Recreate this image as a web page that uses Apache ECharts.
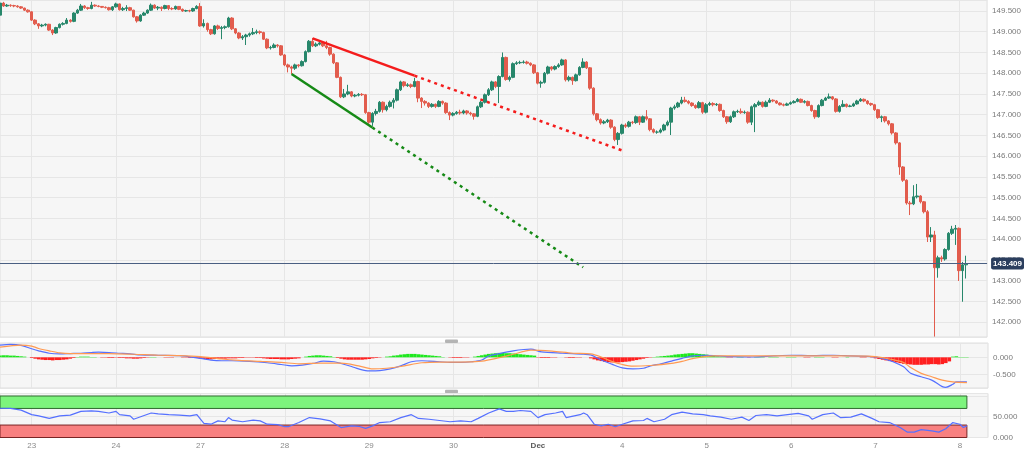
<!DOCTYPE html>
<html>
<head>
<meta charset="utf-8">
<style>
  html, body { margin: 0; padding: 0; background: #fff; }
  #chart { width: 1024px; height: 452px; }
</style>
<script src="https://cdn.jsdelivr.net/npm/echarts@6/dist/echarts.min.js"></script>
</head>
<body>
<div id="chart"></div>
<script>
// hourly candles, 22 Nov 15:00 .. 8 Dec 02:00 (weekends skipped)
var days = ['22', '23', '24', '27', '28', '29', '30', 'Dec', '4', '5', '6', '7', '8']
var firstHour = 15
var slots = 282
var firstOpen = 149.40
var lastPrice = 143.409

var closes = [
  149.69, 149.62, 149.64, 149.63, 149.62, 149.60, 149.57, 149.52, 149.48,
  149.28, 149.19, 149.14, 149.16, 149.18, 149.04, 148.97, 149.10, 149.18, 149.20, 149.28, 149.25, 149.45, 149.52, 149.62, 149.58, 149.56, 149.64, 149.62, 149.61, 149.59, 149.58, 149.53, 149.60,
  149.67, 149.53, 149.56, 149.58, 149.52, 149.36, 149.26, 149.40, 149.45, 149.52, 149.64, 149.57, 149.59, 149.56, 149.63, 149.56, 149.55, 149.61, 149.54, 149.50, 149.51, 149.50, 149.56, 149.61,
  149.14, 149.20, 149.05, 148.95, 149.14, 149.08, 149.10, 149.12, 149.33, 149.07, 148.97, 148.85, 148.88, 148.92, 148.95, 148.98, 149.00, 148.98, 148.82, 148.61, 148.62, 148.68, 148.66, 148.44,
  148.20, 148.15, 148.12, 148.20, 148.18, 148.28, 148.52, 148.77, 148.66, 148.70, 148.73, 148.66, 148.62, 148.46, 148.25, 147.90, 147.43, 147.50, 147.55, 147.45, 147.47, 147.49, 147.48, 147.05,
  146.82, 147.03, 147.08, 147.30, 147.12, 147.20, 147.30, 147.35, 147.60, 147.79, 147.70, 147.72, 147.68, 147.80, 147.40, 147.32, 147.28, 147.20, 147.25, 147.20, 147.32, 147.28, 147.05, 146.99,
  147.03, 147.06, 147.04, 147.09, 147.04, 147.02, 146.96, 147.19, 147.30, 147.48, 147.60, 147.79, 147.68, 147.92, 148.38, 147.85, 147.90, 148.23, 148.25, 148.26, 148.27, 148.24, 148.20, 148.01,
  147.76, 147.78, 148.00, 148.15, 148.10, 148.16, 148.20, 148.32, 147.84, 147.90, 147.82, 147.96, 148.14, 148.27, 148.13, 147.64, 147.02, 146.88, 146.80, 146.83, 146.87, 146.70, 146.40, 146.55,
  146.75, 146.72, 146.82, 146.81, 146.95, 146.82, 146.95, 146.90, 146.64, 146.58, 146.58, 146.63, 146.75, 146.82, 147.16, 147.19, 147.28, 147.35, 147.32, 147.28, 147.22, 147.17, 147.29, 147.06,
  147.24, 147.27, 147.24, 147.25, 147.10, 146.95, 146.83, 146.95, 147.07, 147.08, 147.05, 147.06, 146.82, 147.19, 147.24, 147.30, 147.20, 147.30, 147.35, 147.33, 147.28, 147.24, 147.23, 147.26,
  147.29, 147.32, 147.37, 147.30, 147.32, 147.22, 147.10, 146.95, 147.22, 147.35, 147.40, 147.43, 147.38, 147.08, 147.20, 147.25, 147.20, 147.21, 147.26, 147.33, 147.37, 147.33, 147.27, 147.24,
  147.12, 146.93, 146.95, 146.85, 146.78, 146.56, 146.32, 145.74, 145.42, 144.87, 144.85, 145.02, 145.04, 144.90, 144.66, 144.05, 144.10, 143.31, 143.55, 143.52, 143.75, 144.14, 144.24, 144.26,
  143.24, 143.38, 143.41
]

var highs = [
  149.72, 149.72, 149.67, 149.66, 149.65, 149.64, 149.62, 149.58, 149.54,
  149.49, 149.30, 149.21, 149.19, 149.20, 149.19, 149.06, 149.12, 149.20, 149.23, 149.33, 149.30, 149.47, 149.55, 149.67, 149.64, 149.60, 149.72, 149.66, 149.64, 149.62, 149.61, 149.60, 149.62,
  149.70, 149.68, 149.60, 149.64, 149.60, 149.53, 149.38, 149.42, 149.48, 149.54, 149.68, 149.66, 149.62, 149.61, 149.65, 149.64, 149.59, 149.63, 149.62, 149.56, 149.53, 149.53, 149.58, 149.64,
  149.69, 149.30, 149.22, 149.07, 149.16, 149.17, 149.14, 149.15, 149.36, 149.35, 149.09, 148.99, 148.92, 148.95, 148.98, 149.09, 149.05, 149.03, 149.00, 148.84, 148.66, 148.72, 148.70, 148.68,
  148.46, 148.23, 148.18, 148.23, 148.22, 148.31, 148.55, 148.80, 148.85, 148.74, 148.76, 148.75, 148.78, 148.64, 148.48, 148.27, 147.92, 147.62, 147.72, 147.57, 147.50, 147.52, 147.52, 147.50,
  147.07, 147.06, 147.14, 147.33, 147.32, 147.24, 147.34, 147.40, 147.63, 147.82, 147.81, 147.76, 147.75, 147.89, 147.82, 147.42, 147.35, 147.30, 147.28, 147.27, 147.35, 147.34, 147.30, 147.08,
  147.06, 147.09, 147.12, 147.12, 147.11, 147.07, 147.04, 147.22, 147.33, 147.51, 147.64, 147.82, 147.81, 147.95, 148.50, 148.40, 147.94, 148.26, 148.29, 148.30, 148.31, 148.30, 148.26, 148.22,
  148.03, 147.82, 148.03, 148.18, 148.17, 148.19, 148.24, 148.35, 148.34, 147.94, 147.92, 147.99, 148.17, 148.36, 148.29, 148.15, 147.66, 147.04, 146.91, 146.87, 146.90, 146.89, 146.72, 146.58,
  146.78, 146.79, 146.85, 146.85, 146.98, 146.97, 146.98, 147.11, 146.92, 146.67, 146.62, 146.67, 146.78, 146.86, 147.19, 147.24, 147.31, 147.43, 147.43, 147.35, 147.30, 147.25, 147.33, 147.31,
  147.28, 147.31, 147.30, 147.28, 147.27, 147.12, 146.97, 146.98, 147.10, 147.12, 147.15, 147.10, 147.08, 147.22, 147.28, 147.34, 147.32, 147.34, 147.40, 147.37, 147.35, 147.30, 147.27, 147.29,
  147.32, 147.35, 147.40, 147.39, 147.35, 147.34, 147.24, 147.12, 147.25, 147.38, 147.43, 147.51, 147.45, 147.40, 147.23, 147.35, 147.27, 147.24, 147.29, 147.36, 147.40, 147.39, 147.35, 147.29,
  147.26, 147.14, 146.98, 146.97, 146.87, 146.80, 146.58, 146.34, 145.76, 145.44, 144.92, 145.30, 145.33, 145.06, 144.92, 144.70, 144.29, 144.20, 143.60, 143.60, 143.78, 144.17, 144.32, 144.34,
  144.28, 143.45, 143.60
]

var lows = [
  149.38, 149.60, 149.60, 149.60, 149.59, 149.58, 149.55, 149.50, 149.46,
  149.26, 149.16, 149.07, 149.11, 149.13, 149.02, 148.92, 148.95, 149.08, 149.15, 149.18, 149.22, 149.23, 149.43, 149.50, 149.55, 149.53, 149.54, 149.60, 149.59, 149.57, 149.56, 149.51, 149.50,
  149.58, 149.51, 149.50, 149.50, 149.50, 149.34, 149.22, 149.24, 149.38, 149.43, 149.50, 149.55, 149.52, 149.50, 149.54, 149.52, 149.52, 149.53, 149.52, 149.48, 149.48, 149.47, 149.48, 149.54,
  149.12, 149.10, 149.00, 148.92, 148.93, 149.04, 148.82, 149.06, 149.10, 149.04, 148.94, 148.82, 148.80, 148.68, 148.88, 148.92, 148.94, 148.94, 148.80, 148.58, 148.57, 148.60, 148.62, 148.42,
  148.17, 148.02, 147.98, 148.08, 148.14, 148.16, 148.26, 148.50, 148.63, 148.63, 148.67, 148.63, 148.58, 148.42, 148.22, 147.88, 147.40, 147.40, 147.47, 147.42, 147.42, 147.44, 147.45, 147.02,
  146.78, 146.73, 146.98, 147.05, 147.05, 147.08, 147.17, 147.15, 147.32, 147.57, 147.66, 147.67, 147.64, 147.66, 147.30, 147.16, 147.22, 147.16, 147.17, 147.16, 147.18, 147.24, 147.02, 146.87,
  146.96, 147.00, 147.00, 147.01, 147.00, 146.98, 146.88, 146.94, 147.16, 147.27, 147.45, 147.57, 147.64, 147.28, 147.90, 147.82, 147.80, 147.88, 148.20, 148.22, 148.23, 148.21, 148.17, 147.98,
  147.73, 147.65, 147.75, 147.97, 148.06, 148.07, 148.13, 148.18, 147.80, 147.80, 147.72, 147.80, 147.94, 148.12, 148.10, 147.60, 146.98, 146.84, 146.76, 146.77, 146.80, 146.66, 146.36, 146.27,
  146.52, 146.68, 146.69, 146.77, 146.78, 146.75, 146.80, 146.86, 146.60, 146.55, 146.54, 146.55, 146.60, 146.72, 146.51, 147.12, 147.16, 147.25, 147.29, 147.25, 147.19, 147.14, 147.15, 147.02,
  147.03, 147.21, 147.20, 147.21, 147.07, 146.92, 146.78, 146.80, 146.92, 147.04, 147.02, 147.02, 146.78, 146.75, 146.58, 147.21, 147.17, 147.18, 147.28, 147.30, 147.26, 147.22, 147.20, 147.21,
  147.24, 147.27, 147.30, 147.28, 147.27, 147.20, 147.07, 146.90, 146.93, 147.20, 147.33, 147.38, 147.35, 147.05, 147.05, 147.18, 147.17, 147.18, 147.19, 147.24, 147.31, 147.30, 147.24, 147.21,
  147.09, 146.90, 146.82, 146.81, 146.74, 146.52, 146.28, 145.55, 145.38, 144.83, 144.58, 144.82, 144.98, 144.86, 144.62, 143.93, 143.93, 141.65, 143.07, 143.45, 143.48, 143.72, 144.10, 143.86,
  142.99, 142.49, 143.05
]

var macdHist = [
  0.05, 0.06, 0.06, 0.05, 0.05, 0.04, 0.03, 0.02, 0.00,
  -0.02, -0.04, -0.06, -0.07, -0.08, -0.08, -0.09, -0.08, -0.08, -0.07, -0.06, -0.04, -0.02, 0.01, 0.02, 0.02, 0.02, 0.01, 0.01, 0.00, -0.01, -0.01, -0.02, -0.02,
  -0.01, -0.02, -0.02, -0.03, -0.03, -0.04, -0.04, -0.03, -0.02, -0.01, 0.01, 0.01, 0.00, 0.00, -0.01, -0.01, -0.01, 0.00, 0.00, -0.01, -0.01, -0.02, -0.02, -0.02,
  -0.04, -0.05, -0.05, -0.06, -0.05, -0.05, -0.04, -0.04, -0.03, -0.03, -0.03, -0.02, -0.02, -0.01, -0.01, -0.01, -0.02, -0.02, -0.03, -0.04, -0.05, -0.05, -0.05, -0.06,
  -0.06, -0.06, -0.05, -0.04, -0.03, 0.00, 0.02, 0.04, 0.05, 0.06, 0.06, 0.05, 0.04, 0.03, 0.01, -0.02, -0.04, -0.06, -0.07, -0.07, -0.07, -0.07, -0.07, -0.06,
  -0.05, -0.03, -0.02, -0.01, 0.00, 0.02, 0.03, 0.05, 0.06, 0.08, 0.09, 0.10, 0.10, 0.10, 0.09, 0.08, 0.07, 0.06, 0.05, 0.04, 0.03, 0.01, 0.00, -0.01,
  -0.02, -0.02, -0.02, -0.01, -0.01, 0.00, 0.02, 0.04, 0.06, 0.08, 0.10, 0.11, 0.12, 0.13, 0.13, 0.12, 0.12, 0.11, 0.10, 0.09, 0.08, 0.07, 0.06, 0.05,
  -0.01, -0.02, -0.02, -0.02, -0.01, -0.01, 0.00, 0.00, -0.01, -0.02, -0.02, -0.01, -0.01, 0.00, 0.00, -0.03, -0.06, -0.09, -0.11, -0.13, -0.14, -0.15, -0.15, -0.15,
  -0.14, -0.13, -0.12, -0.10, -0.08, -0.06, -0.04, -0.02, -0.01, 0.01, 0.02, 0.03, 0.04, 0.05, 0.06, 0.08, 0.09, 0.10, 0.11, 0.12, 0.12, 0.11, 0.10, 0.09,
  0.08, 0.06, 0.05, 0.03, 0.02, 0.01, -0.01, -0.01, 0.00, 0.01, 0.01, 0.00, -0.01, 0.00, 0.01, 0.01, 0.01, 0.00, 0.01, 0.01, 0.01, 0.00, 0.00, 0.01,
  0.01, 0.01, 0.00, 0.00, -0.01, -0.01, 0.00, 0.01, 0.01, 0.01, 0.00, 0.00, -0.01, -0.01, 0.00, 0.00, 0.01, 0.00, 0.00, 0.00, -0.01, -0.01, 0.00, -0.01,
  -0.03, -0.05, -0.07, -0.09, -0.11, -0.13, -0.15, -0.17, -0.19, -0.20, -0.21, -0.22, -0.22, -0.22, -0.21, -0.21, -0.20, -0.20, -0.21, -0.20, -0.17, -0.12, 0.02, 0.03,
  0.01, 0.01, 0.01
]

// [hour index, value]
var macdLine = [[0, 0.36], [3, 0.38], [6, 0.35], [9, 0.25], [11, 0.19], [14, 0.12], [17, 0.10], [20, 0.11], [23, 0.12], [26, 0.14], [28, 0.15], [31, 0.14], [34, 0.12], [37, 0.10], [40, 0.07], [45, 0.06], [51, 0.05], [57, -0.03], [60, -0.08], [63, -0.10], [66, -0.10], [71, -0.12], [76, -0.16], [80, -0.21], [83, -0.25], [86, -0.23], [89, -0.18], [92, -0.11], [95, -0.13], [97, -0.18], [100, -0.27], [102, -0.34], [105, -0.40], [108, -0.39], [111, -0.34], [114, -0.25], [117, -0.13], [120, -0.10], [122, -0.11], [125, -0.13], [128, -0.15], [131, -0.15], [134, -0.13], [137, -0.08], [139, 0.04], [142, 0.11], [146, 0.19], [149, 0.23], [151, 0.24], [154, 0.16], [160, 0.12], [166, 0.09], [168, 0.07], [171, -0.08], [174, -0.20], [177, -0.31], [180, -0.34], [183, -0.32], [185, -0.25], [188, -0.19], [191, -0.11], [194, -0.03], [197, 0.04], [200, 0.06], [203, 0.05], [208, 0.02], [214, 0.01], [220, 0.04], [225, 0.06], [231, 0.05], [237, 0.06], [242, 0.04], [248, 0.02], [251, -0.03], [254, -0.13], [257, -0.28], [259, -0.47], [262, -0.57], [265, -0.67], [268, -0.86], [269, -0.88], [271, -0.79], [272, -0.72], [275, -0.72]]

var signalLine = [[0, 0.30], [6, 0.36], [9, 0.33], [11, 0.26], [14, 0.19], [17, 0.13], [20, 0.11], [26, 0.11], [31, 0.11], [38, 0.09], [45, 0.06], [51, 0.05], [57, 0.02], [63, -0.05], [68, -0.09], [74, -0.12], [80, -0.15], [85, -0.19], [91, -0.17], [97, -0.17], [102, -0.25], [106, -0.34], [110, -0.32], [114, -0.27], [120, -0.16], [125, -0.14], [131, -0.14], [137, -0.11], [142, -0.01], [146, 0.09], [151, 0.21], [157, 0.18], [163, 0.12], [168, 0.10], [171, 0.01], [174, -0.12], [177, -0.21], [180, -0.26], [185, -0.24], [191, -0.18], [194, -0.12], [197, -0.04], [203, 0.04], [212, 0.04], [222, 0.04], [231, 0.04], [240, 0.04], [248, 0.03], [254, -0.07], [257, -0.15], [259, -0.30], [262, -0.47], [265, -0.57], [268, -0.67], [271, -0.72], [275, -0.74]]

var rsiLine = [[0, 70.5], [3, 70], [6, 66], [9, 55], [11, 52], [14, 46], [17, 52], [20, 54], [23, 63], [26, 64], [28, 63], [31, 59], [33, 63], [34, 55], [37, 52], [38, 44], [40, 50], [43, 59], [45, 57], [48, 55], [51, 54], [54, 52], [56, 55], [57, 44], [58, 34], [60, 32], [62, 40], [64, 38], [65, 48], [66, 42], [69, 38], [72, 42], [74, 40], [76, 32], [79, 31], [81, 26], [82, 26], [85, 36], [88, 48], [91, 45], [94, 40], [97, 24], [100, 28], [102, 27], [104, 22], [106, 28], [108, 36], [111, 38], [114, 48], [117, 55], [119, 46], [122, 44], [125, 41], [128, 38], [131, 40], [134, 38], [136, 46], [139, 59], [142, 69], [144, 63], [146, 63], [148, 65], [151, 63], [153, 48], [155, 55], [158, 59], [160, 63], [161, 48], [165, 55], [166, 59], [167, 55], [169, 32], [171, 28], [173, 32], [175, 26], [177, 32], [180, 40], [183, 41], [184, 46], [186, 38], [189, 44], [191, 55], [194, 61], [197, 57], [200, 55], [202, 52], [205, 49], [208, 44], [211, 49], [213, 41], [215, 53], [218, 55], [221, 52], [224, 55], [227, 58], [230, 52], [231, 44], [234, 55], [237, 59], [239, 48], [242, 49], [245, 57], [248, 46], [250, 38], [253, 36], [256, 24], [258, 13], [260, 13], [262, 19], [265, 16], [267, 13], [269, 21], [271, 36], [273, 32], [274, 24], [275, 28]]

// drawn trend lines: [hour index, price]
var redTrend = [[89, 148.84], [118, 147.94]]
var redTrendExt = [[118, 147.94], [178, 146.11]]
var greenTrend = [[83, 147.98], [106, 146.69]]
var greenTrendExt = [[106, 146.69], [166, 143.32]]

var categories = []
for (var d = 0; d < days.length; d++) {
  for (var h = 0; h < 24; h++) {
    var idx = d * 24 + h - firstHour
    if (idx >= 0 && idx < slots) categories.push(days[d] + ' ' + h)
  }
}

var candles = closes.map(function (c, i) {
  var o = i === 0 ? firstOpen : closes[i - 1]
  return [o, c, lows[i], highs[i]]
})

function toCat(points) {
  return points.map(function (p) { return [categories[p[0]], p[1]] })
}

function isDayStart(index, value) {
  return / 0$/.test(value)
}

var gridColor = '#e6e6e6'
var labelFont = 'Arial, "Liberation Sans", sans-serif'

function xAxisFor(gridIndex, showLabels) {
  return {
    type: 'category',
    gridIndex: gridIndex,
    data: categories,
    boundaryGap: false,
    axisLine: { show: false },
    axisTick: { show: false },
    axisLabel: {
      show: showLabels,
      interval: isDayStart,
      margin: 4,
      color: '#8a8a8a',
      fontSize: 8,
      fontFamily: labelFont,
      formatter: function (v) {
        var day = v.split(' ')[0]
        return day === 'Dec' ? '{b|Dec}' : day
      },
      rich: { b: { fontWeight: 'bold', color: '#5a5a5a', fontSize: 8, fontFamily: labelFont } }
    },
    splitLine: { show: true, interval: isDayStart, lineStyle: { color: gridColor } }
  }
}

function yAxisFor(gridIndex, extra) {
  var axis = {
    type: 'value',
    gridIndex: gridIndex,
    position: 'right',
    axisLine: { show: false },
    axisTick: { show: false },
    axisLabel: {
      margin: 5,
      color: '#7a7a7a',
      fontSize: 8,
      fontFamily: labelFont,
      showMinLabel: false,
      showMaxLabel: false,
      formatter: function (v) { return v.toFixed(3) }
    },
    splitLine: { lineStyle: { color: gridColor } }
  }
  return Object.assign(axis, extra)
}

var panel = { left: 0, right: 36, show: true, backgroundColor: '#f6f6f6', borderColor: '#dedede', borderWidth: 1 }

var chart = echarts.init(document.getElementById('chart'))
var option = {
  animation: false,
  backgroundColor: '#ffffff',
  grid: [
    Object.assign({ top: 0, height: 337 }, panel),
    Object.assign({ top: 343, height: 45 }, panel),
    Object.assign({ top: 393.5, height: 44 }, panel)
  ],
  xAxis: [xAxisFor(0, false), xAxisFor(1, false), xAxisFor(2, true)],
  yAxis: [
    yAxisFor(0, { min: 141.64, max: 149.765, splitNumber: 16 }),
    yAxisFor(1, { min: -0.9, max: 0.42, splitNumber: 3 }),
    yAxisFor(2, {
      min: 0, max: 106, interval: 50,
      axisLabel: {
        margin: 5, color: '#7a7a7a', fontSize: 8, fontFamily: labelFont, showMaxLabel: false,
        formatter: function (v) { return v === 100 ? '' : v.toFixed(3) }
      }
    })
  ],
  graphic: [
    { type: 'rect', shape: { x: 445, y: 339.5, width: 13, height: 3.5, r: 1 }, style: { fill: '#b4b4b4' } },
    { type: 'rect', shape: { x: 445, y: 389.8, width: 13, height: 3.5, r: 1 }, style: { fill: '#b4b4b4' } }
  ],
  series: [
    {
      type: 'candlestick',
      xAxisIndex: 0,
      yAxisIndex: 0,
      barWidth: 3,
      data: candles,
      itemStyle: {
        color: '#27876b',
        color0: '#e25c4d',
        borderColor: '#27876b',
        borderColor0: '#e25c4d',
        borderWidth: 1
      },
      markLine: {
        silent: true,
        symbol: 'none',
        data: [{ yAxis: lastPrice }],
        lineStyle: { color: '#4a5f82', width: 1, type: 'solid' },
        label: {
          position: 'end',
          distance: 4,
          formatter: lastPrice.toFixed(3),
          backgroundColor: '#2b3e5e',
          borderRadius: 2,
          color: '#fff',
          fontSize: 8,
          fontWeight: 'bold',
          fontFamily: labelFont,
          padding: [2, 2]
        }
      }
    },
    {
      type: 'line', xAxisIndex: 0, yAxisIndex: 0, symbol: 'none', silent: true,
      data: toCat(redTrend), lineStyle: { color: '#f41c1c', width: 2.5 }
    },
    {
      type: 'line', xAxisIndex: 0, yAxisIndex: 0, symbol: 'none', silent: true,
      data: toCat(redTrendExt), lineStyle: { color: '#f41c1c', width: 2.5, type: [3, 4] }
    },
    {
      type: 'line', xAxisIndex: 0, yAxisIndex: 0, symbol: 'none', silent: true,
      data: toCat(greenTrend), lineStyle: { color: '#168a16', width: 2.5 }
    },
    {
      type: 'line', xAxisIndex: 0, yAxisIndex: 0, symbol: 'none', silent: true,
      data: toCat(greenTrendExt), lineStyle: { color: '#168a16', width: 2.5, type: [3, 4] }
    },
    {
      type: 'bar',
      xAxisIndex: 1,
      yAxisIndex: 1,
      barCategoryGap: '0%',
      data: macdHist,
      itemStyle: {
        color: function (p) { return p.value >= 0 ? '#1ee81e' : '#ff1f1f' }
      }
    },
    {
      type: 'line', xAxisIndex: 1, yAxisIndex: 1, symbol: 'none', smooth: 0.3,
      data: toCat(macdLine), lineStyle: { color: '#5570ff', width: 1.2 }
    },
    {
      type: 'line', xAxisIndex: 1, yAxisIndex: 1, symbol: 'none', smooth: 0.3,
      data: toCat(signalLine), lineStyle: { color: '#ff9a52', width: 1.2 }
    },
    {
      type: 'line',
      xAxisIndex: 2,
      yAxisIndex: 2,
      symbol: 'none',
      data: toCat(rsiLine),
      lineStyle: { color: '#5570ff', width: 1.2 },
      markArea: {
        silent: true,
        data: [
          [
            { xAxis: categories[0], yAxis: 70, itemStyle: { color: '#7df47d', borderColor: '#2f6b2f', borderWidth: 1 } },
            { xAxis: categories[closes.length - 1], yAxis: 100 }
          ],
          [
            { xAxis: categories[0], yAxis: 0, itemStyle: { color: '#f88080', borderColor: '#7a2525', borderWidth: 1 } },
            { xAxis: categories[closes.length - 1], yAxis: 30 }
          ]
        ]
      }
    }
  ]
}
chart.setOption(option)
</script>
</body>
</html>
